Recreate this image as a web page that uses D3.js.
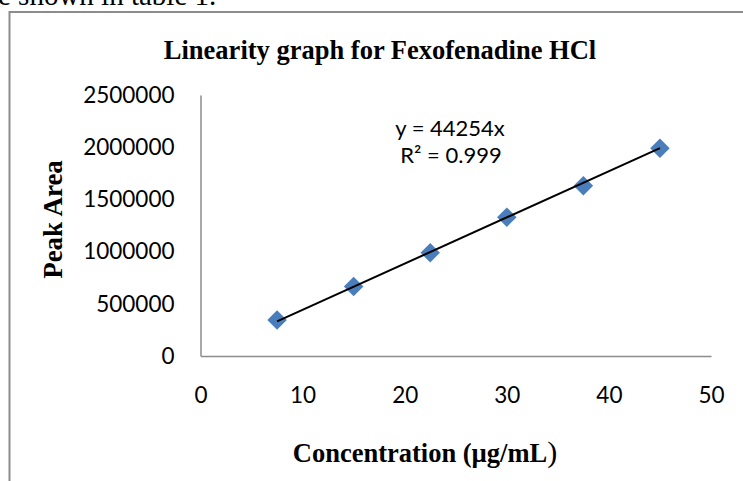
<!DOCTYPE html>
<html>
<head>
<meta charset="utf-8">
<script src="https://cdn.jsdelivr.net/npm/d3@7"></script>
<style>
  body { margin: 0; background: #fff; }
  .chart { width: 743px; height: 481px; overflow: hidden; }
  text { fill: #000; }
</style>
</head>
<body>
<div class="chart"></div>
<script>
// data
const concentrations = [7.5, 15, 22.5, 30, 37.5, 45]
const peakAreas = [345000, 665000, 990000, 1330000, 1630000, 1990000]
const slope = 44254
const xTicks = [0, 10, 20, 30, 40, 50]
const yTicks = [0, 500000, 1000000, 1500000, 2000000, 2500000]

const W = 743, H = 481
const plot = {left: 200.5, right: 711, top: 95, bottom: 356}

const svg = d3.select('.chart')
  .append('svg')
    .attr('width', W)
    .attr('height', H)

// the cut off line of body text above the chart
svg.append('text')
  .attr('x', -2)
  .attr('y', 5)
  .style('font-family', '"Liberation Serif", serif')
  .style('font-size', '29px')
  .text('e shown in table 1.')

// chart frame
svg.append('rect')
  .attr('x', 9.5)
  .attr('y', 12)
  .attr('width', 760)
  .attr('height', 500)
  .attr('fill', 'none')
  .attr('stroke', '#8c8c8c')
  .attr('stroke-width', 2)

const xScale = d3.scaleLinear()
  .domain([0, 50])
  .range([plot.left, plot.right])

const yScale = d3.scaleLinear()
  .domain([0, 2500000])
  .range([plot.bottom, plot.top])

const tickFont = 'Lato, "Open Sans", sans-serif'

const yAxis = d3.axisLeft(yScale)
  .tickValues(yTicks)
  .tickFormat(d3.format('d'))
  .tickSize(0)
  .tickPadding(26)

svg.append('g')
    .attr('transform', `translate(${plot.left}, 0)`)
  .call(yAxis)
  .call(g => g.select('.domain').attr('stroke', '#8c8c8c').attr('stroke-width', 1.5))
  .call(g => g.selectAll('text')
    .style('font-family', tickFont)
    .style('font-size', '22.5px')
    .attr('fill', '#000'))

const xAxis = d3.axisBottom(xScale)
  .tickValues(xTicks)
  .tickSize(0)
  .tickPadding(31)

svg.append('g')
    .attr('transform', `translate(0, ${plot.bottom})`)
  .call(xAxis)
  .call(g => g.select('.domain').attr('stroke', '#8c8c8c').attr('stroke-width', 1.5))
  .call(g => g.selectAll('text')
    .style('font-family', tickFont)
    .style('font-size', '22.5px')
    .attr('fill', '#000'))

// title
svg.append('text')
  .attr('x', 380)
  .attr('y', 59)
  .attr('text-anchor', 'middle')
  .style('font-family', '"Liberation Serif", serif')
  .style('font-weight', 'bold')
  .style('font-size', '26.5px')
  .text('Linearity graph for Fexofenadine HCl')

// axis titles
const xTitle = svg.append('text')
  .attr('x', 425)
  .attr('y', 462)
  .attr('text-anchor', 'middle')
  .style('font-family', '"Liberation Serif", serif')
  .style('font-weight', 'bold')
  .style('font-size', '26.5px')
xTitle.append('tspan').text('Concentration (µg/mL')
xTitle.append('tspan')
  .style('font-weight', 'normal')
  .style('font-size', '30px')
  .text(')')

svg.append('text')
  .attr('transform', `translate(62, ${(plot.top + plot.bottom) / 2 - 6}) rotate(-90)`)
  .attr('text-anchor', 'middle')
  .style('font-family', '"Liberation Serif", serif')
  .style('font-weight', 'bold')
  .style('font-size', '27px')
  .text('Peak Area')

// markers
const points = concentrations.map((c, i) => ({x: c, y: peakAreas[i]}))

svg.selectAll('.pt')
  .data(points)
  .enter()
  .append('path')
    .attr('class', 'pt')
    .attr('d', d3.symbol(d3.symbolSquare, 190))
    .attr('transform', d => `translate(${xScale(d.x)}, ${yScale(d.y)}) rotate(45)`)
    .attr('fill', '#4a7ebb')

// linear trendline through the origin
const xMin = d3.min(concentrations), xMax = d3.max(concentrations)
const line = d3.line()
  .x(d => xScale(d))
  .y(d => yScale(slope * d))

svg.append('path')
  .datum([xMin, xMax])
  .attr('d', line)
  .attr('stroke', '#000')
  .attr('stroke-width', 2)
  .attr('fill', 'none')

// equation label
const eq = svg.append('text')
  .attr('text-anchor', 'middle')
  .style('font-family', tickFont)
  .style('font-size', '22px')
eq.append('tspan').attr('x', 450).attr('y', 136).text(`y = ${slope}x`)
eq.append('tspan').attr('x', 451).attr('y', 163).text('R² = 0.999')
</script>
</body>
</html>
